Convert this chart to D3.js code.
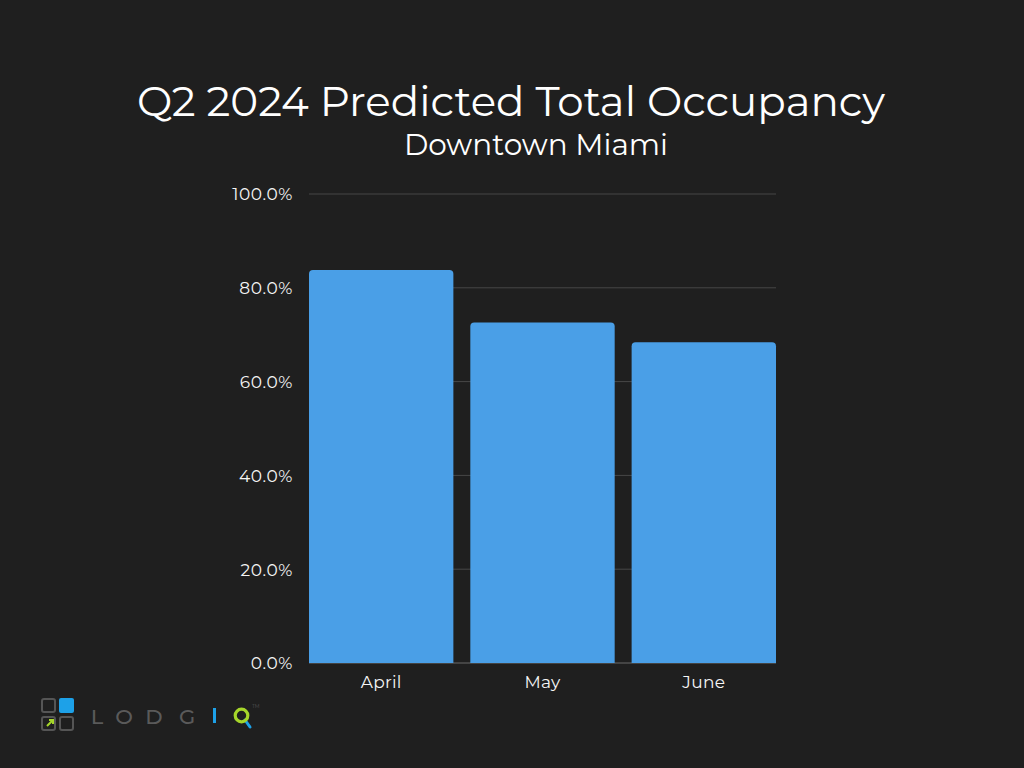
<!DOCTYPE html>
<html><head><meta charset="utf-8">
<script src="https://cdn.jsdelivr.net/npm/d3@7"></script>
<style>html,body{margin:0;padding:0;background:#1f1f1f;}svg{display:block;}</style>
</head><body>
<script>
const months = ["April", "May", "June"];
const occupancy = [0.838, 0.726, 0.684];
const yTicks = [0, 0.2, 0.4, 0.6, 0.8, 1.0];
const titleText = "Q2 2024 Predicted Total Occupancy";
const subtitleText = "Downtown Miami";
const logoLetters = ["L", "O", "D", "G"];

const W = 1024, H = 768;
const svg = d3.select("body").append("svg").attr("width", W).attr("height", H);
svg.append("rect").attr("width", W).attr("height", H).attr("fill", "#1f1f1f");
const font = "Montserrat, Lato, 'Open Sans', sans-serif";

const x = d3.scaleBand().domain(months).range([309, 776]).paddingInner(0.105).paddingOuter(0);
const y = d3.scaleLinear().domain([0, 1]).range([663, 194]);

// gridlines
svg.append("g").selectAll("line").data(yTicks).join("line")
  .attr("x1", 309).attr("x2", 776)
  .attr("y1", d => y(d)).attr("y2", d => y(d))
  .attr("stroke", d => d === 0 ? "#6a6a6a" : "#474747").attr("stroke-width", 1);

// y axis labels
const yAxis = d3.axisLeft(y).tickValues(yTicks).tickFormat(d3.format(".1%")).tickSize(0).tickPadding(0);
const ga = svg.append("g").attr("transform", "translate(293,0)").call(yAxis);
ga.select(".domain").remove();
ga.selectAll("text").attr("fill", "#f5f5f5").attr("font-size", 17).attr("letter-spacing", 0.6)
  .attr("font-family", font).attr("dy", "0.35em");

// bars with rounded top corners
const r = 4;
svg.append("g").selectAll("path").data(months).join("path")
  .attr("fill", "#4a9fe7")
  .attr("d", (m, i) => {
    const x0 = x(m), x1 = x0 + x.bandwidth(), yt = y(occupancy[i]), yb = y(0);
    return `M${x0},${yb}V${yt + r}Q${x0},${yt} ${x0 + r},${yt}H${x1 - r}Q${x1},${yt} ${x1},${yt + r}V${yb}Z`;
  });

// x axis labels
const xAxis = d3.axisBottom(x).tickSize(0).tickPadding(0);
const gx = svg.append("g").attr("transform", "translate(0,682)").call(xAxis);
gx.select(".domain").remove();
gx.selectAll("text").attr("fill", "#f5f5f5").attr("font-size", 17).attr("letter-spacing", 0.3)
  .attr("font-family", font).attr("dy", "0.35em");

// titles
svg.append("text").attr("x", 511).attr("y", 116).attr("text-anchor", "middle")
  .attr("fill", "#ffffff").attr("font-size", 42).attr("font-family", font).text(titleText);
svg.append("text").attr("x", 536).attr("y", 155).attr("text-anchor", "middle")
  .attr("fill", "#ffffff").attr("font-size", 29.5).attr("font-family", font).text(subtitleText);

// logo
const logo = svg.append("g");
const sq = [[41, 698, false], [59, 698, true], [41, 716, false], [59, 716, false]];
sq.forEach(([sx, sy, filled]) => {
  if (filled) logo.append("rect").attr("x", sx).attr("y", sy).attr("width", 15).attr("height", 15).attr("rx", 2).attr("fill", "#1da1e8");
  else logo.append("rect").attr("x", sx + 1).attr("y", sy + 1).attr("width", 13).attr("height", 13).attr("rx", 2).attr("fill", "none").attr("stroke", "#555").attr("stroke-width", 2);
});
logo.append("path").attr("d", "M47,726 L53,720 M49,720 H53 V724").attr("stroke", "#a6d62a").attr("stroke-width", 2).attr("fill", "none");
const letterX = [97, 124, 154, 187];
logo.selectAll("text.l").data(logoLetters).join("text").attr("class", "l")
  .attr("x", (d, i) => letterX[i]).attr("y", 723.5).attr("text-anchor", "middle")
  .attr("fill", "#5a5a5a").attr("font-size", 21).attr("font-weight", 500)
  .attr("font-family", font).text(d => d);
logo.append("rect").attr("x", 213).attr("y", 708).attr("width", 3).attr("height", 15).attr("fill", "#1da1e8");
logo.append("path").attr("d", "M245,720 L250,727").attr("stroke", "#1da1e8").attr("stroke-width", 3).attr("stroke-linecap", "round");
logo.append("circle").attr("cx", 241.5).attr("cy", 715.5).attr("r", 6.3).attr("fill", "none").attr("stroke", "#a6d62a").attr("stroke-width", 3.2);
logo.append("text").attr("x", 252).attr("y", 708).attr("fill", "#555").attr("font-size", 5).attr("font-family", font).text("TM");
</script>
</body></html>
